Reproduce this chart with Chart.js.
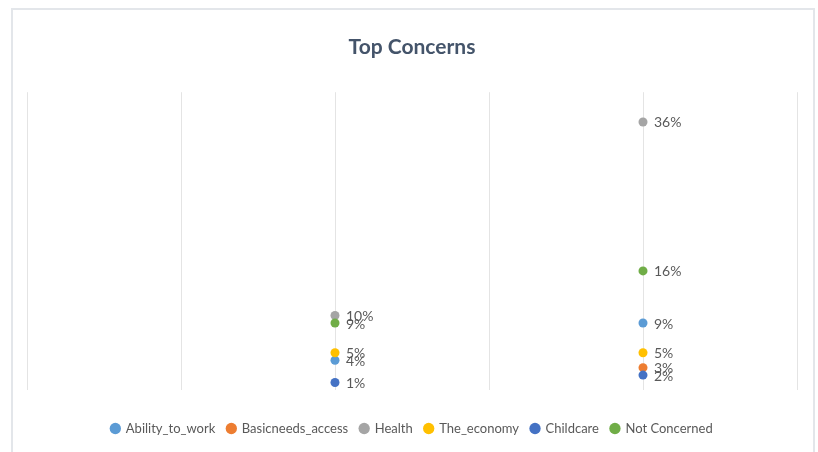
<!DOCTYPE html>
<html>
<head>
<meta charset="utf-8">
<title>Top Concerns</title>
<script src="https://cdn.jsdelivr.net/npm/chart.js@4/dist/chart.umd.min.js"></script>
<style>
  html, body { margin: 0; padding: 0; background: #fff; overflow: hidden; }
  #wrap { position: relative; width: 818px; height: 452px; }
  #frame {
    position: absolute; left: 11px; top: 8px; width: 800px; height: 460px;
    border: 2px solid #e3e6ea; border-bottom: none;
  }
  canvas { position: absolute; left: 0; top: 0; }
</style>
</head>
<body>
<div id="wrap">
  <div id="frame"></div>
  <canvas id="concernsChart" width="818" height="452"></canvas>
</div>
<script>
const xValues = [2, 4];

const seriesNames = ['Ability_to_work', 'Basicneeds_access', 'Health', 'The_economy', 'Childcare', 'Not Concerned'];
const abilityToWork = [4, 9];
const basicneedsAccess = [null, 3];
const health = [10, 36];
const theEconomy = [5, 5];
const childcare = [1, 2];
const notConcerned = [9, 16];

const seriesColors = ['#5B9BD5', '#ED7D31', '#A5A5A5', '#FFC000', '#4472C4', '#70AD47'];

const allSeries = [abilityToWork, basicneedsAccess, health, theEconomy, childcare, notConcerned];

const FONT = 'Lato, "Open Sans", sans-serif';

// value labels to the right of every marker
const pointLabels = {
    id: 'pointLabels',
    afterDatasetsDraw(chart) {
        const ctx = chart.ctx;
        ctx.save();
        ctx.font = '14px ' + FONT;
        ctx.fillStyle = '#595959';
        ctx.textBaseline = 'middle';
        ctx.textAlign = 'left';
        chart.data.datasets.forEach((ds, i) => {
            const meta = chart.getDatasetMeta(i);
            meta.data.forEach((pt, j) => {
                const v = ds.data[j].y;
                if (v === null || v === undefined) return;
                ctx.fillText(v + '%', pt.x + 11, pt.y + 1);
            });
        });
        ctx.restore();
    }
};

const datasets = allSeries.map((values, i) => ({
    label: seriesNames[i],
    data: values.map((v, j) => ({ x: xValues[j], y: v })),
    backgroundColor: seriesColors[i],
    borderColor: seriesColors[i],
    pointRadius: 4.5,
    pointHoverRadius: 4.5,
    borderWidth: 0,
    showLine: false,
    // later series sit on top
    order: allSeries.length - i
}));

const ctx = document.getElementById('concernsChart').getContext('2d');
const chart = new Chart(ctx, {
    type: 'scatter',
    data: { datasets: datasets },
    options: {
        responsive: false,
        animation: false,
        layout: { padding: { top: 35, left: 27, right: 21, bottom: 7 } },
        scales: {
            x: {
                type: 'linear',
                min: 0,
                max: 5,
                ticks: { display: false, stepSize: 1 },
                grid: { color: '#e4e4e4', lineWidth: 1, drawTicks: false },
                border: { display: false },
                // leave a gap between the plot and the legend
                afterFit(scale) { scale.height += 20; }
            },
            y: {
                display: false,
                min: 0,
                max: 40
            }
        },
        plugins: {
            title: {
                display: true,
                text: 'Top Concerns',
                color: '#44546A',
                font: { family: FONT, size: 21, weight: 'bold' },
                padding: { top: 0, bottom: 32 }
            },
            legend: {
                position: 'bottom',
                labels: {
                    usePointStyle: true,
                    pointStyle: 'circle',
                    boxWidth: 8,
                    boxHeight: 8,
                    padding: 12,
                    color: '#595959',
                    font: { family: FONT, size: 13 },
                    sort: (a, b) => a.datasetIndex - b.datasetIndex
                }
            },
            tooltip: { enabled: false }
        }
    },
    plugins: [pointLabels]
});
</script>
</body>
</html>
